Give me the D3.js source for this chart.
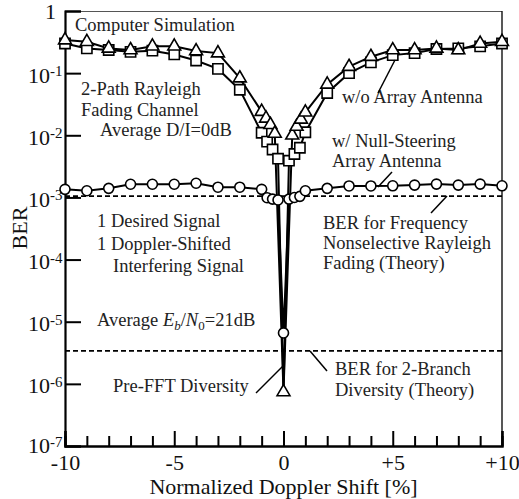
<!DOCTYPE html>
<html>
<head>
<meta charset="utf-8">
<script src="https://cdn.jsdelivr.net/npm/d3@7"></script>
<style>
  body { margin: 0; background: #fff; }
  svg { display: block; font-family: "Liberation Serif", "Times New Roman", serif; }
  .ann { font-size: 18.5px; fill: #222; }
</style>
</head>
<body>
<div id="chart"></div>
<script>
// doppler shift [%] and BER for each curve
var shiftTri = [-10,-9,-8,-7,-6,-5,-4,-3,-2,-1,-0.8,-0.6,-0.4,0,0.4,0.6,0.8,1,2,3,4,5,6,7,8,9,10];
var berTri   = [0.34,0.32,0.25,0.236,0.27,0.27,0.227,0.21,0.083,0.024,0.0187,0.0148,0.0107,7.4e-7,
                0.010,0.0138,0.018,0.0234,0.066,0.127,0.184,0.235,0.235,0.25,0.235,0.30,0.32];

var shiftSq = [-10,-9,-8,-7,-6,-5,-4,-3,-2,-1,-0.75,-0.5,-0.25,0,0.25,0.5,0.75,1,2,3,4,5,6,7,8,9,10];
var berSq   = [0.30,0.25,0.236,0.22,0.23,0.20,0.16,0.117,0.054,0.011,0.0079,0.0059,0.0042,7.4e-7,
               0.0039,0.005,0.0063,0.0112,0.048,0.10,0.149,0.195,0.21,0.245,0.25,0.27,0.30];

var shiftCir = [-10,-9,-8,-7,-6,-5,-4,-3,-2,-1,-0.75,-0.5,-0.25,0,0.25,0.5,0.75,1,2,3,4,5,6,7,8,9,10];
var berCir   = [1.35e-3,1.28e-3,1.40e-3,1.63e-3,1.63e-3,1.63e-3,1.69e-3,1.46e-3,1.46e-3,1.35e-3,0.99e-3,0.94e-3,0.91e-3,6.6e-6,
                0.94e-3,1.0e-3,1.04e-3,1.28e-3,1.40e-3,1.53e-3,1.53e-3,1.54e-3,1.58e-3,1.64e-3,1.58e-3,1.64e-3,1.54e-3];

var theoryRayleigh = 1.05e-3;   // dashed line, frequency nonselective Rayleigh
var theory2Branch  = 3.4e-6;    // dashed line, 2-branch diversity

var xMinor  = [-9,-8,-7,-6,-4,-3,-2,-1,1,2,3,4,6,7,8,9];
var xMajor  = [-10,-5,0,5,10];
var xLabels = ["-10","-5","0","+5","+10"];
var yDecades = [0,-1,-2,-3,-4,-5,-6,-7];

var W = 519, H = 499,
    m = {l: 65, r: 17, t: 11, b: 53},
    pw = W - m.l - m.r, ph = H - m.t - m.b;

var svg = d3.select("#chart").append("svg").attr("width", W).attr("height", H);
var g = svg.append("g").attr("transform", "translate(" + m.l + "," + m.t + ")");

var x = d3.scaleLinear().domain([-10, 10]).range([0, pw]);
var y = d3.scaleLog().domain([1e-7, 1]).range([ph, 0]);

// frame: thin top/right
g.append("line").attr("x1", 0).attr("x2", pw).attr("y1", 0.5).attr("y2", 0.5)
    .attr("stroke", "#555").attr("stroke-width", 1.2);
g.append("line").attr("x1", pw).attr("x2", pw).attr("y1", 0).attr("y2", ph)
    .attr("stroke", "#111").attr("stroke-width", 1.4);

// dashed theory lines
[theoryRayleigh, theory2Branch].forEach(function(v){
    g.append("line").attr("x1", 0).attr("x2", pw)
        .attr("y1", y(v)).attr("y2", y(v))
        .attr("stroke", "#000").attr("stroke-width", 1.6)
        .attr("stroke-dasharray", "5,3");
});

// x axis (ticks point inward)
var xMinorAxis = d3.axisBottom(x).tickValues(xMinor).tickSize(-10).tickFormat("");
var xMajorAxis = d3.axisBottom(x).tickValues(xMajor).tickSize(-15)
    .tickFormat(function(d, i){ return xLabels[i]; });
g.append("g").attr("transform", "translate(0," + ph + ")").call(xMinorAxis);
var xg = g.append("g").attr("transform", "translate(0," + ph + ")").call(xMajorAxis);
xg.selectAll("text").attr("font-size", 22).attr("font-family", "Liberation Serif")
    .attr("fill", "#111").attr("y", 24).attr("dy", null);

// y axis (ticks point inward, labels drawn by hand for superscripts)
var yAxis = d3.axisLeft(y).tickValues(yDecades.map(function(k){ return Math.pow(10, k); }))
    .tickSize(-16).tickFormat("");
g.append("g").call(yAxis);

g.selectAll(".domain").attr("stroke", "#000").attr("stroke-width", 2.2);
g.selectAll(".tick line").attr("stroke", "#000").attr("stroke-width", 2);

var yl = g.selectAll(".ylab").data(yDecades).enter().append("text")
    .attr("class", "ylab").attr("font-size", 22).attr("fill", "#111");
yl.each(function(k){
    var t = d3.select(this), yy = y(Math.pow(10, k));
    if (k === 0) {
        t.attr("x", -9).attr("y", yy + 8).attr("text-anchor", "end").text("1");
        return;
    }
    t.attr("x", -37).attr("y", yy + (k === -7 ? 7 : 9.5));
    t.append("tspan").text("10");
    t.append("tspan").attr("font-size", 15).attr("dy", -6.5).text("-" + (-k));
});

// series
var line = d3.line().x(function(d){ return x(d[0]); }).y(function(d){ return y(d[1]); });
function pairs(xs, ys){ return xs.map(function(v, i){ return [v, ys[i]]; }); }

var series = [
    {name: "sq",  data: pairs(shiftSq, berSq)},
    {name: "tri", data: pairs(shiftTri, berTri)},
    {name: "cir", data: pairs(shiftCir, berCir)}
];

series.forEach(function(s){
    g.append("path").datum(s.data).attr("d", line)
        .attr("fill", "none").attr("stroke", "#000").attr("stroke-width", 2);
});

var sym = {
    sq:  d3.symbol().type(d3.symbolSquare).size(105),
    tri: d3.symbol().type(d3.symbolTriangle).size(72)
};
series.forEach(function(s){
    if (s.name === "cir") {
        g.selectAll(".cir").data(s.data).enter().append("circle").attr("class", "cir")
            .attr("cx", function(d){ return x(d[0]); })
            .attr("cy", function(d){ return y(d[1]); })
            .attr("r", 5).attr("fill", "#fff").attr("stroke", "#000").attr("stroke-width", 1.6);
    } else {
        // the square at 0 sits under the triangle in the original, only the triangle shows
        var pts = s.name === "sq" ? s.data.filter(function(d){ return d[0] !== 0; }) : s.data;
        g.selectAll("." + s.name).data(pts).enter().append("path").attr("class", s.name)
            .attr("d", sym[s.name])
            .attr("transform", function(d){ return "translate(" + x(d[0]) + "," + y(d[1]) + ")"; })
            .attr("fill", "#fff").attr("stroke", "#000").attr("stroke-width", 1.6);
    }
});

// annotations
function ann(tx, ty, str){
    return svg.append("text").attr("class", "ann").attr("x", tx).attr("y", ty).text(str);
}
ann(75, 30.5, "Computer Simulation");
ann(81, 95, "2-Path Rayleigh");
ann(81, 115.5, "Fading Channel");
ann(100, 136, "Average D/I=0dB");
ann(342, 103, "w/o Array Antenna");
ann(332, 147, "w/ Null-Steering");
ann(332, 167, "Array Antenna");
ann(97, 227, "1 Desired Signal");
ann(97, 250, "1 Doppler-Shifted");
ann(113, 272, "Interfering Signal");
var eb = ann(97, 326, "Average ");
eb.append("tspan").attr("font-style", "italic").text("E");
eb.append("tspan").attr("font-style", "italic").attr("font-size", 13).attr("dy", 4).text("b");
eb.append("tspan").attr("dy", -4).text("/");
eb.append("tspan").attr("font-style", "italic").text("N");
eb.append("tspan").attr("font-size", 13).attr("dy", 4).text("0");
eb.append("tspan").attr("dy", -4).text("=21dB");
ann(323, 229, "BER for Frequency");
ann(323, 249, "Nonselective Rayleigh");
ann(323, 269, "Fading (Theory)");
ann(113, 392, "Pre-FFT Diversity");
ann(335, 374.5, "BER for 2-Branch");
ann(335, 395.5, "Diversity (Theory)");

var leaders = [[395,60,378,93],[392,172,378,187],[447,196,431,213],[256,393,283,366],[310,351,327,371]];
svg.selectAll(".lead").data(leaders).enter().append("line").attr("class", "lead")
    .attr("x1", function(d){ return d[0]; }).attr("y1", function(d){ return d[1]; })
    .attr("x2", function(d){ return d[2]; }).attr("y2", function(d){ return d[3]; })
    .attr("stroke", "#000").attr("stroke-width", 1.5);

// axis titles
svg.append("text").attr("font-size", 22).attr("fill", "#111").attr("text-anchor", "middle")
    .attr("transform", "translate(27,228) rotate(-90)").text("BER");
svg.append("text").attr("font-size", 22).attr("fill", "#111").attr("text-anchor", "middle")
    .attr("x", m.l + pw / 2).attr("y", 494).text("Normalized Doppler Shift [%]");
</script>
</body>
</html>
